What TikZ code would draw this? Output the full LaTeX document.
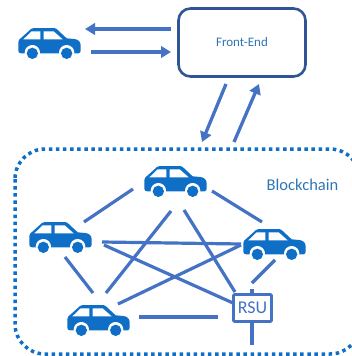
\documentclass[tikz,border=0pt]{standalone}
\usepackage{fontspec}
\setmainfont{Carlito}
\usetikzlibrary{arrows.meta}
\definecolor{carblue}{HTML}{0F6FC6}
\definecolor{linkblue}{HTML}{4472C4}
\definecolor{boxblue}{HTML}{2F5597}
\definecolor{textblue}{HTML}{2E75B6}
\tikzset{
  link/.style={draw=linkblue,line width=3.2pt},
  flow/.style={draw=linkblue,line width=3.3pt,-{Triangle[width=11.5pt,length=10pt]}},
  frontbox/.style={draw=boxblue,line width=2.6pt,rounded corners=12pt,fill=white,minimum width=127pt,minimum height=68pt,inner sep=0pt,text=textblue,font=\fontsize{13}{15}\selectfont},
  rsubox/.style={draw=linkblue,line width=2.8pt,fill=white,rounded corners=1pt,minimum width=38pt,minimum height=27pt,inner sep=0pt,text=linkblue,font=\fontsize{18}{20}\selectfont},
  chain/.style={draw=carblue,line width=3.5pt,dash pattern=on 3.5pt off 3.6pt,rounded corners=30pt},
  carshape/.pic={
    \begin{scope}[x=0.3333pt,y=-0.3333pt,shift={(-93.5,-46.5)}]
      \fill[carblue] (0,42) .. controls (0,37) and (3,34) .. (8,30)
        -- (38,3) .. controls (40,1) and (42,0) .. (46,0) -- (108,0) .. controls (111,0) and (113,1) .. (115,3)
        -- (145,31) -- (168,33) .. controls (180,34) and (187,42) .. (187,52)
        -- (187,68) .. controls (187,73) and (184,76) .. (180,76) -- (8,76) .. controls (3,76) and (0,73) .. (0,68) -- cycle;
      \fill[white] (15,34) -- (40,10) -- (66,10) -- (66,34) -- cycle;
      \fill[white] (76,10) -- (106,10) -- (133,34) -- (76,34) -- cycle;
      \fill[white] (42,74) circle (23);
      \fill[white] (145,74) circle (23);
      \fill[carblue] (42,76) circle (17);
      \fill[carblue] (145,76) circle (17);
    \end{scope}
  }
}
\begin{document}
\begin{tikzpicture}[x=1pt,y=-1pt]
\useasboundingbox (0,0) rectangle (352,356);
\clip (0,0) rectangle (352,356);
% dotted blockchain region
\path[chain] (15,149) rectangle (360,354);
% cars
\pic at (49.5,43.5) {carshape};
\pic at (175.5,181.5) {carshape};
\pic at (60.5,237.5) {carshape};
\pic at (274.5,244.5) {carshape};
\pic at (98.5,320.5) {carshape};
% nodes
\node[frontbox] (fe) at (242,42.5) {Front-End};
\node[rsubox] (rsu) at (252.5,308) {RSU};
\node[text=textblue,font=\fontsize{16.5}{18}\selectfont] (bc) at (302.5,184.5) {Blockchain};
% connector ends
\coordinate (a1s) at (171,29); \coordinate (a1e) at (85,29);
\coordinate (a2s) at (91,52);  \coordinate (a2e) at (171,52);
\coordinate (a3s) at (226,84); \coordinate (a3e) at (202,142);
\coordinate (a4s) at (234,142);\coordinate (a4e) at (259,84);
\coordinate (tl1) at (84,222); \coordinate (top1) at (133,189);
\coordinate (lf1) at (65,257); \coordinate (bt1) at (93,293);
\coordinate (bt2) at (106,293);\coordinate (top2) at (171,211);
\coordinate (lf2) at (102,242);\coordinate (rt1) at (241,244);
\coordinate (lf3) at (104,245);\coordinate (rs1) at (233,303);
\coordinate (bt3) at (118,304);\coordinate (rt2) at (241,245);
\coordinate (top3) at (184,210);\coordinate (rs2) at (235,292);
\coordinate (top4) at (212,191);\coordinate (rt3) at (262,222);
\coordinate (rt4) at (275,260);\coordinate (rs3) at (252,283);
\coordinate (bt4) at (139,317);\coordinate (rs4) at (218,317);
\coordinate (rs5) at (252,289);\coordinate (rs6) at (252,345);
% arrows
\draw[flow] (a1s) -- (a1e);
\draw[flow] (a2s) -- (a2e);
\draw[flow] (a3s) -- (a3e);
\draw[flow] (a4s) -- (a4e);
% links
\draw[link] (tl1) -- (top1);
\draw[link] (lf1) -- (bt1);
\draw[link] (bt2) -- (top2);
\draw[link] (lf2) -- (rt1);
\draw[link] (lf3) -- (rs1);
\draw[link] (bt3) -- (rt2);
\draw[link] (top3) -- (rs2);
\draw[link] (top4) -- (rt3);
\draw[link] (rt4) -- (rs3);
\draw[link] (bt4) -- (rs4);
\draw[link] (rs5) -- (rsu.north -| rs5);
\draw[link] (rsu.south -| rs6) -- (rs6);
\end{tikzpicture}
\end{document}
